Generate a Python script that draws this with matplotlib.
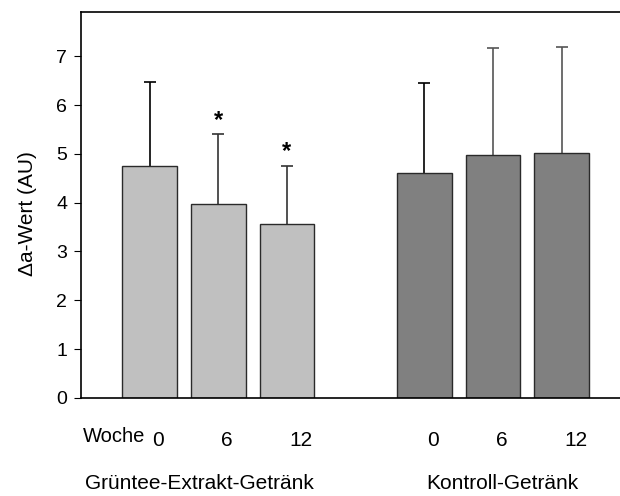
import numpy as np
import matplotlib.pyplot as plt

plt.rcParams['font.family'] = ['Liberation Sans', 'DejaVu Sans']

weeks = ['0', '6', '12', '0', '6', '12']
groups = ['Grüntee-Extrakt-Getränk', 'Kontroll-Getränk']
means = [4.75, 3.98, 3.57, 4.60, 4.97, 5.01]
sd_upper = [1.73, 1.42, 1.19, 1.86, 2.20, 2.18]
signif = ['', '*', '*', '', '', '']
bar_colors = ['#c0c0c0'] * 3 + ['#808080'] * 3
err_colors = ['black', '#333333', '#333333', 'black', '#555555', '#555555']

pos = np.array([0, 1, 2, 4, 5, 6])

fig = plt.figure(figsize=(6.2, 4.96), dpi=100)
ax = fig.add_axes([0.1306, 0.198, 0.8694, 0.777])

ax.bar(pos, means, width=0.8, color=bar_colors, edgecolor='#2a2a2a', linewidth=1.0, zorder=2)
# only the upper half of the error bar is drawn
tops = np.array(means) + np.array(sd_upper)
ax.vlines(pos, means, tops, colors=err_colors, linewidth=1.2, zorder=1)
ax.hlines(tops, pos - 0.088, pos + 0.088, colors=err_colors, linewidth=1.2, zorder=1)
for p, t, s in zip(pos, tops, signif):
    if s:
        ax.text(p, t + 0.28, s, ha='center', va='center', fontsize=17, fontweight='bold')

ax.set_xlim(-1.0, 6.85)
ax.set_ylim(0, 7.9)
ax.set_yticks(range(0, 8))
ax.tick_params(axis='y', direction='out', length=5, labelsize=14, pad=5)
ax.set_xticks([])
ax.spines['right'].set_visible(False)
ax.spines['left'].set_linewidth(1.2)
ax.spines['bottom'].set_linewidth(1.2)
ax.spines['top'].set_linewidth(1.2)
ax.set_ylabel('Δa-Wert (AU)', fontsize=15)
ax.yaxis.set_label_coords(-0.082, 0.477)

# week labels start just right of the bar centre, as in the original
for p, w in zip(pos, weeks):
    ax.text(p + 0.04, -0.87, w, ha='left', va='center', fontsize=15)
ax.text(-0.07, -0.80, 'Woche', ha='right', va='center', fontsize=14.5)
ax.text(0.72, -1.75, groups[0], ha='center', va='center', fontsize=15)
ax.text(5.135, -1.75, groups[1], ha='center', va='center', fontsize=15)

plt.savefig('out.png', dpi=100)
plt.close()
